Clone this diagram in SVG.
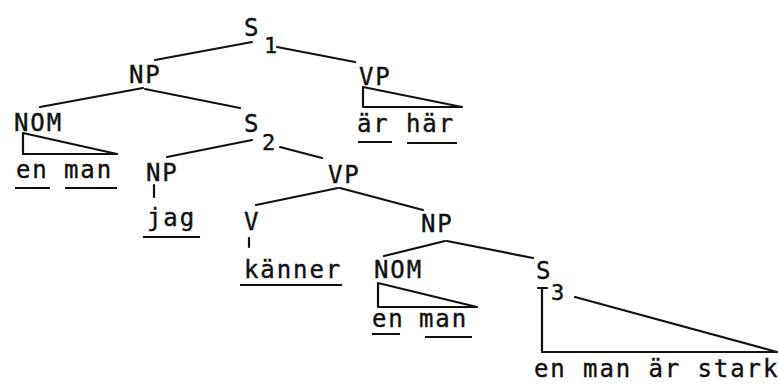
<svg xmlns="http://www.w3.org/2000/svg" width="779" height="384" viewBox="0 0 779 384">
<style>
text{font-family:"DejaVu Sans Mono","Liberation Mono",monospace;font-size:24px;letter-spacing:1.9px;fill:#111;stroke:#111;stroke-width:0.4}
.sub{font-size:22px}
.e{stroke:#111;stroke-width:2.2;fill:none;stroke-linecap:round;stroke-linejoin:round}
.u{stroke:#111;stroke-width:2;fill:none}
</style>
<rect width="779" height="384" fill="#fff"/>
<g id="S1"><text x="244" y="36">S</text><text class="sub" x="264" y="53">1</text></g>
<g id="NP1"><text x="129" y="83">NP</text></g>
<g id="VP1"><text x="359" y="85">VP</text></g>
<g id="arhar"><text x="357" y="132">är</text><text x="406" y="132">här</text><path class="u" d="M358 142H392M407 143H457"/></g>
<g id="NOM1"><text x="14" y="131">NOM</text></g>
<g id="enman1"><text x="16" y="178">en</text><text x="64" y="178">man</text><path class="u" d="M15 188H50M65 188H117"/></g>
<g id="S2"><text x="244" y="132">S</text><text class="sub" x="262" y="150">2</text></g>
<g id="NP2"><text x="146" y="181">NP</text></g>
<g id="jag"><text x="147" y="226">jag</text><path class="u" d="M143 237H200"/></g>
<g id="VP2"><text x="328" y="183">VP</text></g>
<g id="V"><text x="244" y="230">V</text></g>
<g id="kanner"><text x="244" y="278">känner</text><path class="u" d="M240 285H342"/></g>
<g id="NP3"><text x="421" y="232">NP</text></g>
<g id="NOM2"><text x="374" y="278">NOM</text></g>
<g id="enman2"><text x="372" y="327">en</text><text x="419" y="327">man</text><path class="u" d="M372 334H400M425 337H472"/></g>
<g id="S3"><text x="536" y="279">S</text><text class="sub" x="551" y="300">3</text></g>
<g id="sentence"><text x="534" y="377">en man är stark</text></g>
<g id="connectors">
<path class="e" d="M252 42L155 60"/>
<path class="e" d="M277 47L355 62"/>
<path class="e" d="M363 87V107H462Z"/>
<path class="e" d="M143 88L40 107"/>
<path class="e" d="M145 89L240 108"/>
<path class="e" d="M23 133V154H117Z"/>
<path class="e" d="M252 140L167 157"/>
<path class="e" d="M280 147L322 158"/>
<path class="e" d="M154 185V197"/>
<path class="e" d="M338 188L256 205"/>
<path class="e" d="M340 188L423 210"/>
<path class="e" d="M249 238V247"/>
<path class="e" d="M445 241L384 256"/>
<path class="e" d="M447 241L533 258"/>
<path class="e" d="M378 283V307H477Z"/>
<path class="e" d="M538 288H547M542 288V352H777L575 297"/>
</g>
</svg>
